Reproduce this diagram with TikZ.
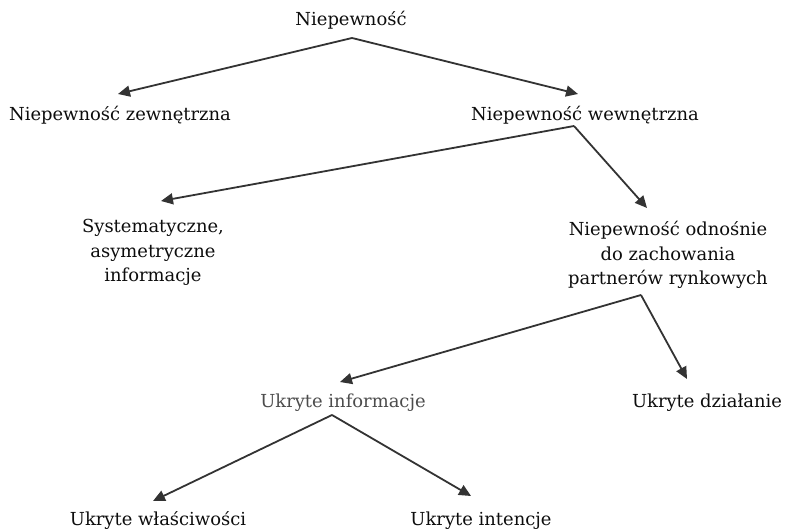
\documentclass[tikz,border=0pt]{standalone}
\usepackage{fontspec}
\setmainfont{DejaVu Serif}
\usetikzlibrary{arrows.meta}

\begin{document}
\begin{tikzpicture}[x=1bp,y=-1bp,
        lbl/.style={anchor=base,align=center,text=black!95,
            font=\fontsize{18}{25}\selectfont},
        arr/.style={-{Triangle[length=12bp,width=11bp]},line width=1.8bp,draw=black!80}]
        \useasboundingbox (0,0) rectangle (787,531);

        \node[lbl] (top) at (351, 26) {Niepewność};
        \node[lbl] (zew) at (120, 121) {Niepewność zewnętrzna};
        \node[lbl] (wew) at (585, 121) {Niepewność wewnętrzna};
        \node[lbl] (sys) at (153, 282) {Systematyczne,\\asymetryczne\\informacje};
        \node[lbl] (odn) at (668, 285) {Niepewność odnośnie\\do zachowania\\partnerów rynkowych};
        \node[lbl,text=black!70] (inf) at (343, 407) {Ukryte informacje};
        \node[lbl] (dzi) at (707, 407) {Ukryte działanie};
        \node[lbl] (wla) at (158, 525) {Ukryte właściwości};
        \node[lbl] (int) at (481, 525) {Ukryte intencje};

        % rozgalezienia
        \coordinate (a1) at (352, 38);
        \coordinate (a2) at (574, 126);
        \coordinate (a3) at (641, 295);
        \coordinate (a4) at (332, 415);

        % groty
        \coordinate (zew-in) at (118, 94);
        \coordinate (wew-in) at (578, 94);
        \coordinate (sys-in) at (161, 201);
        \coordinate (odn-in) at (647, 208);
        \coordinate (inf-in) at (340, 382);
        \coordinate (dzi-in) at (687, 379);
        \coordinate (wla-in) at (153, 501);
        \coordinate (int-in) at (471, 496);

        \draw[arr] (a1) -- (zew-in);
        \draw[arr] (a1) -- (wew-in);
        \draw[arr] (a2) -- (sys-in);
        \draw[arr] (a2) -- (odn-in);
        \draw[arr] (a3) -- (inf-in);
        \draw[arr] (a3) -- (dzi-in);
        \draw[arr] (a4) -- (wla-in);
        \draw[arr] (a4) -- (int-in);

    \end{tikzpicture}
\end{document}
